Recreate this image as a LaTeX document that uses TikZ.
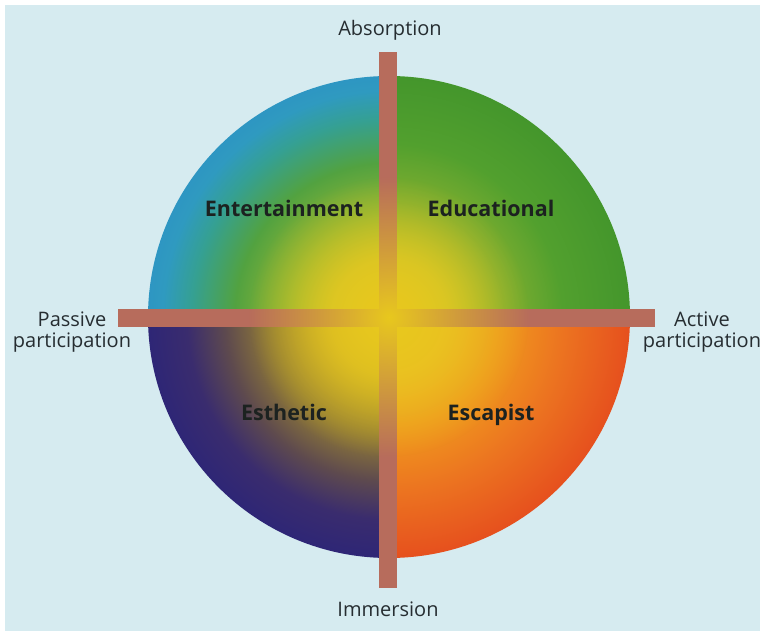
\documentclass[tikz,border=0pt]{standalone}
\usepackage{fontspec}
\setmainfont{Open Sans}
\usetikzlibrary{fadings}

\definecolor{bgblue}{HTML}{D6EBF0}
\definecolor{barrose}{HTML}{B76C5C}
\definecolor{glow}{HTML}{E8C81E}
\definecolor{axistext}{HTML}{262D31}
\definecolor{quadtext}{HTML}{1C2220}
% entertainment
\definecolor{enta}{HTML}{CEC428}
\definecolor{entb}{HTML}{8CB434}
\definecolor{entc}{HTML}{52A240}
\definecolor{entd}{HTML}{35A092}
\definecolor{ente}{HTML}{2F9AC0}
\definecolor{entf}{HTML}{2E96C2}
% educational
\definecolor{edua}{HTML}{C8C42A}
\definecolor{edub}{HTML}{80AE30}
\definecolor{educ}{HTML}{52A02E}
\definecolor{edud}{HTML}{44962C}
% esthetic
\definecolor{esta}{HTML}{D2B424}
\definecolor{estb}{HTML}{968034}
\definecolor{estc}{HTML}{5E4A4E}
\definecolor{estd}{HTML}{3A2C6E}
\definecolor{este}{HTML}{2E2676}
% escapist
\definecolor{esca}{HTML}{EEB824}
\definecolor{escb}{HTML}{F0961E}
\definecolor{escc}{HTML}{EC7420}
\definecolor{escd}{HTML}{E6501E}

% one radial shading per quadrant, yellow in the middle (25bp = rim)
\pgfdeclareradialshading{entshade}{\pgfpointorigin}{color(0bp)=(glow); color(6bp)=(enta); color(11bp)=(entb); color(16bp)=(entc); color(20.5bp)=(entd); color(23.5bp)=(ente); color(25bp)=(entf); color(50bp)=(entf)}
\pgfdeclareradialshading{edushade}{\pgfpointorigin}{color(0bp)=(glow); color(6bp)=(edua); color(12bp)=(edub); color(18bp)=(educ); color(25bp)=(edud); color(50bp)=(edud)}
\pgfdeclareradialshading{estshade}{\pgfpointorigin}{color(0bp)=(glow); color(6bp)=(esta); color(12bp)=(estb); color(17bp)=(estc); color(21bp)=(estd); color(25bp)=(este); color(50bp)=(este)}
\pgfdeclareradialshading{escshade}{\pgfpointorigin}{color(0bp)=(glow); color(6bp)=(esca); color(12bp)=(escb); color(18bp)=(escc); color(25bp)=(escd); color(50bp)=(escd)}

\tikzfading[name=glowfade, inner color=transparent!0, outer color=transparent!100]

\begin{document}
\begin{tikzpicture}[x=1pt, y=-1pt]
    \useasboundingbox (0,0) rectangle (760,636);
    \fill[white] (0,0) rectangle (760,636);
    \fill[bgblue] (5,5) rectangle (760,631);
    \coordinate (c) at (389,317);

    % the four quadrants
    \begin{scope}
        \clip (c) rectangle ++(-242,-242);
        \shade[shading=entshade] (c) circle (241pt);
    \end{scope}
    \begin{scope}
        \clip (c) rectangle ++(242,-242);
        \shade[shading=edushade] (c) circle (241pt);
    \end{scope}
    \begin{scope}
        \clip (c) rectangle ++(-242,242);
        \shade[shading=estshade] (c) circle (241pt);
    \end{scope}
    \begin{scope}
        \clip (c) rectangle ++(242,242);
        \shade[shading=escshade] (c) circle (241pt);
    \end{scope}

    % axes
    \fill[barrose] (379,52) rectangle (397,588);
    \fill[barrose] (118,309) rectangle (655,327);
    \fill[glow, path fading=glowfade] (c) circle (140pt);

    \begin{scope}[every node/.style={font=\fontsize{20}{21}\selectfont, text=axistext, align=center, anchor=base, inner sep=0pt}]
        \node (absorption) at (390,36) {Absorption};
        \node (immersion) at (388,616) {Immersion};
        \node (passive) at (72,347) {Passive\\participation};
        \node (active) at (702,347) {Active\\participation};
    \end{scope}

    \begin{scope}[every node/.style={font=\fontsize{21.5}{24}\selectfont\bfseries, text=quadtext, anchor=base, inner sep=0pt}]
        \node (entertainment) at (284,217) {Entertainment};
        \node (educational) at (491,217) {Educational};
        \node (esthetic) at (284,420) {Esthetic};
        \node (escapist) at (491,420) {Escapist};
    \end{scope}
\end{tikzpicture}
\end{document}
